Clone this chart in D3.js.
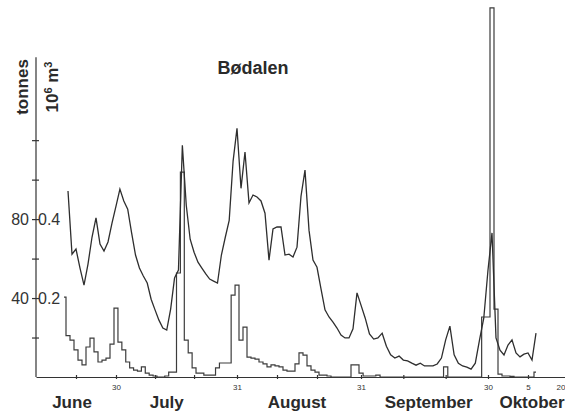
<!DOCTYPE html>
<html>
<head>
    <script src="https://d3js.org/d3.v7.min.js"></script>
    <style>
        body { margin: 0; background: #fff; }
        svg { font-family: "Liberation Sans", Arial, sans-serif; }
        .discharge { fill: none; stroke: #2e2e2e; stroke-width: 1.3; }
        .sediment { fill: none; stroke: #3c3c3c; stroke-width: 1.2; }
        .axis path, .axis line { stroke: #333; stroke-width: 1.2; }
        .axis text { fill: #333; }
    </style>
</head>
<body>
    <svg width="565" height="414"></svg>
    <script>
        // daily runoff (10^6 m3), first value is 18 June
        const dischargeStart = '2001-06-18';
        const discharge = [
            0.471, 0.311, 0.324, 0.276, 0.233, 0.286, 0.354, 0.403, 0.337, 0.319,
            0.342, 0.390, 0.433, 0.476, 0.446, 0.425, 0.365, 0.309, 0.276, 0.256,
            0.238, 0.197, 0.170, 0.144, 0.124, 0.119, 0.172, 0.251, 0.271, 0.587,
            0.435, 0.349, 0.316, 0.291, 0.276, 0.261, 0.248, 0.243, 0.238, 0.309,
            0.354, 0.397, 0.547, 0.630, 0.478, 0.570, 0.441, 0.461, 0.456, 0.446,
            0.415, 0.296, 0.375, 0.380, 0.380, 0.309, 0.311, 0.304, 0.329, 0.458,
            0.524, 0.372, 0.296, 0.278, 0.223, 0.170, 0.152, 0.139, 0.124, 0.106,
            0.099, 0.099, 0.122, 0.213, 0.182, 0.149, 0.109, 0.096, 0.099, 0.111,
            0.078, 0.056, 0.048, 0.053, 0.043, 0.041, 0.035, 0.030, 0.035, 0.028,
            0.028, 0.028, 0.033, 0.048, 0.094, 0.129, 0.056, 0.035, 0.028, 0.025,
            0.020, 0.035, 0.094, 0.149, 0.271, 0.365, 0.099, 0.068, 0.056, 0.081,
            0.094, 0.061, 0.051, 0.058, 0.061, 0.043, 0.111
        ];

        // daily sediment load (tonnes), first value is 17 June
        const sedimentStart = '2001-06-17';
        const sediment = [
            40.5, 21, 18.7, 13.7, 8.6, 6.1, 15.2, 19.7, 12.7, 7.6,
            8.6, 9.6, 16.7, 34.9, 17.7, 13.7, 7.6, 4.6, 3.5, 3.0,
            5.1, 2.0, 1.0, 0.5, 0, 0, 0.5, 2.5, 2.5, 52.7,
            103.8, 18.7, 12.2, 4.6, 2.0, 2.0, 1.0, 1.0, 1.0, 4.6,
            7.1, 7.1, 7.1, 41.5, 46.6, 18.7, 25.3, 10.1, 9.6, 9.1,
            7.6, 6.6, 5.1, 6.1, 5.6, 5.1, 3.5, 3.0, 3.0, 6.6,
            12.2, 11.1, 5.6, 3.5, 2.5, 1.0, 1.0, 0.5, 0, 0,
            0, 0, 0, 6.1, 6.1, 2.0, 0.5, 0.5, 0.5, 1.0,
            0, 0, 0, 0, 0, 0, 0, 0, 0, 0,
            0, 0, 0, 0, 0, 5.1, 0, 0, 0, 0,
            0, 0, 0, 0, 30.4, 30.4, 187, 34.4, 1.5, 0.5,
            0.5, 0.3, 0, 0, 0, 0, 0, 2.5
        ];

        const xTicks = ['06-20', '06-30', '07-10', '07-20', '07-31', '08-10', '08-20', '08-31',
                        '09-10', '09-20', '09-30', '10-10', '10-20'];
        const xTickLabels = {'06-30': '30', '07-31': '31', '08-31': '31', '09-30': '30', '10-10': '5', '10-20': '20'};
        const months = ['June', 'July', 'August', 'September', 'Oktober'];
        const monthAnchors = ['06-19', '07-13', '08-15', '09-16', '10-11'];
        const tonneTicks = [20, 40, 60, 80, 100, 120];
        const tonneLabels = [40, 80];
        const volumeLabels = [0.2, 0.4];

        const parse = d3.utcParse('%Y-%m-%d');
        const day = s => parse('2001-' + s);
        const fmt = d3.utcFormat('%m-%d');

        const svg = d3.select('svg');

        // the hand drawn time axis is not quite even, so use a piecewise scale
        const x = d3.scaleUtc()
            .domain(['06-10', '06-30', '07-31', '08-31', '09-30', '10-20'].map(day))
            .range([36, 116, 237, 361, 488, 568]);

        const y = d3.scaleLinear().domain([0, 190]).range([377, 2]);
        const y2 = d3.scaleLinear().domain([0, 0.95]).range([377, 2]);

        const q = discharge.map((v, i) => ({date: d3.utcDay.offset(parse(dischargeStart), i), value: v}));
        const s = sediment.map((v, i) => ({date: d3.utcDay.offset(parse(sedimentStart), i), value: v}));

        // x axis
        const xAxis = svg.append('g')
            .attr('class', 'axis')
            .attr('transform', `translate(0,${y(0)})`)
            .call(d3.axisBottom(x)
                .tickValues(xTicks.map(day))
                .tickSizeInner(2)
                .tickSizeOuter(0)
                .tickPadding(5)
                .tickFormat(d => xTickLabels[fmt(d)] || ''));
        xAxis.selectAll('.tick line').attr('y1', -2);
        xAxis.selectAll('.tick text').style('font-size', '8px').attr('fill', '#444');
        // last label sits at the page edge, keep it inside
        xAxis.selectAll('.tick text')
            .filter(d => fmt(d) === '10-20')
            .attr('text-anchor', 'end')
            .attr('dx', -3);

        // left axis, tonnes
        const yAxis = svg.append('g')
            .attr('class', 'axis')
            .attr('transform', `translate(${x(day('06-10'))},0)`)
            .call(d3.axisLeft(y)
                .tickValues(tonneTicks)
                .tickSize(4)
                .tickPadding(3)
                .tickFormat(d => tonneLabels.includes(d) ? d : ''));
        yAxis.select('.domain').remove();
        yAxis.selectAll('.tick line').attr('x1', 3);
        yAxis.selectAll('.tick text').style('font-size', '16px');
        yAxis.append('line')
            .attr('y1', y(0))
            .attr('y2', y(162))
            .attr('stroke', '#333')
            .attr('stroke-width', 1.2);

        // inner labels, 10^6 m3
        const y2Axis = svg.append('g')
            .attr('class', 'axis')
            .attr('transform', `translate(${x(day('06-10'))},0)`)
            .call(d3.axisRight(y2)
                .tickValues(volumeLabels)
                .tickSize(0)
                .tickPadding(2)
                .tickFormat(d3.format('.1f')));
        y2Axis.select('.domain').remove();
        y2Axis.selectAll('.tick text').style('font-size', '16px');

        // series
        svg.append('path')
            .datum(s)
            .attr('class', 'sediment')
            .attr('d', d3.line()
                .curve(d3.curveStep)
                .x(d => x(d.date))
                .y(d => y(d.value)));

        svg.append('path')
            .datum(q)
            .attr('class', 'discharge')
            .attr('d', d3.line()
                .x(d => x(d.date))
                .y(d => y2(d.value)));

        // month names
        svg.selectAll('.month')
            .data(months)
            .enter()
            .append('text')
            .attr('class', 'month')
            .attr('x', (d, i) => x(day(monthAnchors[i])))
            .attr('y', 408)
            .attr('text-anchor', 'middle')
            .attr('fill', '#2a2a2a')
            .style('font-size', '17px')
            .style('font-weight', 'bold')
            .text(d => d);

        // title and unit labels
        svg.append('text')
            .attr('x', 253)
            .attr('y', 74)
            .attr('text-anchor', 'middle')
            .attr('fill', '#2a2a2a')
            .style('font-size', '18px')
            .style('font-weight', 'bold')
            .text('Bødalen');

        svg.append('text')
            .attr('transform', 'translate(28,87) rotate(-90)')
            .attr('text-anchor', 'middle')
            .attr('fill', '#2a2a2a')
            .style('font-size', '17px')
            .style('font-weight', 'bold')
            .text('tonnes');

        const unit = svg.append('text')
            .attr('transform', 'translate(58,87) rotate(-90)')
            .attr('text-anchor', 'middle')
            .attr('fill', '#2a2a2a')
            .style('font-size', '17px')
            .style('font-weight', 'bold');
        unit.append('tspan').text('10');
        unit.append('tspan').attr('dy', -6).style('font-size', '11px').text('6');
        unit.append('tspan').attr('dy', 6).text(' m');
        unit.append('tspan').attr('dy', -6).style('font-size', '11px').text('3');
    </script>
</body>
</html>
